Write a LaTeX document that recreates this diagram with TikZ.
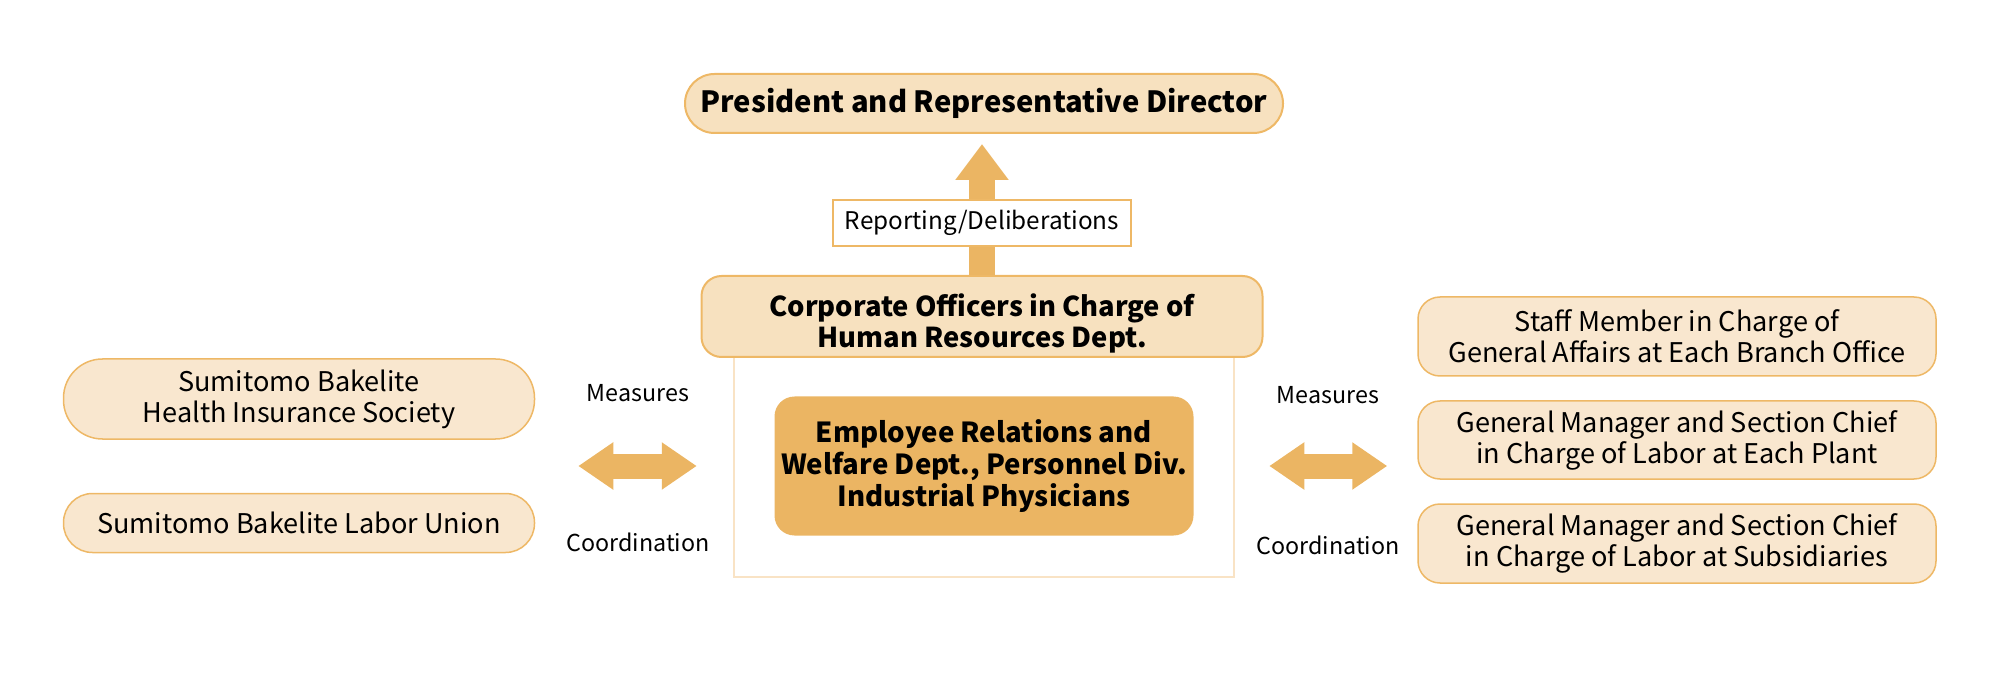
\documentclass[tikz,border=0pt]{standalone}
\usepackage{fontspec}
\setmainfont{Noto Sans CJK JP}
\usetikzlibrary{arrows.meta}
\definecolor{boxfill}{HTML}{F7E1BF}
\definecolor{sidefill}{HTML}{F9E7CF}
\definecolor{boxline}{HTML}{EEB866}
\definecolor{darkfill}{HTML}{EBB563}
\definecolor{frameline}{HTML}{F9E3C5}
\begin{document}
\begin{tikzpicture}[x=1pt, y=-1pt,
    every node/.style={inner sep=0pt, align=center},
    topbox/.style={draw=boxline, fill=boxfill, line width=2pt, font=\fontsize{27.4}{31}\selectfont\bfseries},
    sidebox/.style={draw=boxline, fill=sidefill, line width=1.5pt, font=\fontsize{27.1}{31}\selectfont},
    label/.style={font=\fontsize{23.3}{28}\selectfont},
    fat/.style={draw=darkfill, line width=25pt, {Triangle[width=45pt,length=35pt]}-{Triangle[width=45pt,length=35pt]}}]
    \useasboundingbox (0,0) rectangle (2000,700);
    % outer frame round the personnel box
    \node[draw=frameline, line width=2.5pt, minimum width=500pt, minimum height=220pt] (frame) at (984,467) {};
    \node[topbox, rounded corners=29.5pt, minimum width=598pt, minimum height=59pt, font=\fontsize{29.2}{34}\selectfont\bfseries] (pres) at (984,103.5) {President and Representative Director};
    \node[topbox, rounded corners=20pt, minimum width=561pt, minimum height=81pt] (corp) at (982,316.5) {\raisebox{-15pt}[0pt][0pt]{\begin{tabular}{@{}c@{}}Corporate Officers in Charge of\\Human Resources Dept.\end{tabular}}};
    \draw[darkfill, line width=26pt, -{Triangle[width=51pt,length=36pt]}, shorten >=10pt] (corp.north) -- (corp.north |- pres.south);
    \node[draw=boxline, fill=white, line width=1.2pt, minimum width=298pt, minimum height=46pt, font=\fontsize{24.3}{28}\selectfont] (rep) at (982,223) {Reporting/Deliberations};
    \node[fill=darkfill, rounded corners=20pt, minimum width=419pt, minimum height=139pt, font=\fontsize{27.6}{32}\selectfont\bfseries] (emp) at (984,466) {Employee Relations and\\Welfare Dept., Personnel Div.\\Industrial Physicians};
    % left side
    \node[sidebox, rounded corners=39pt, minimum width=471pt, minimum height=80pt] (health) at (299,399) {Sumitomo Bakelite\\Health Insurance Society};
    \node[sidebox, rounded corners=29pt, minimum width=471pt, minimum height=59pt] (union) at (299,523) {Sumitomo Bakelite Labor Union};
    \draw[fat, shorten <=43pt, shorten >=36pt] (health.east |- emp.center) -- (frame.west |- emp.center);
    \node[label] (measL) at (638,393) {Measures};
    \node[label] (coordL) at (638,542) {Coordination};
    % right side
    \node[sidebox, rounded corners=22pt, minimum width=518pt, minimum height=79pt] (branch) at (1677,336.5) {Staff Member in Charge of\\General Affairs at Each Branch Office};
    \node[sidebox, rounded corners=22pt, minimum width=518pt, minimum height=78pt] (plant) at (1677,440) {General Manager and Section Chief\\in Charge of Labor at Each Plant};
    \node[sidebox, rounded corners=22pt, minimum width=518pt, minimum height=79pt] (subs) at (1677,543.5) {General Manager and Section Chief\\in Charge of Labor at Subsidiaries};
    \draw[fat, shorten <=34pt, shorten >=30pt] (frame.east |- emp.center) -- (plant.west |- emp.center);
    \node[label] (measR) at (1328,395) {Measures};
    \node[label] (coordR) at (1328,545) {Coordination};
\end{tikzpicture}
\end{document}
